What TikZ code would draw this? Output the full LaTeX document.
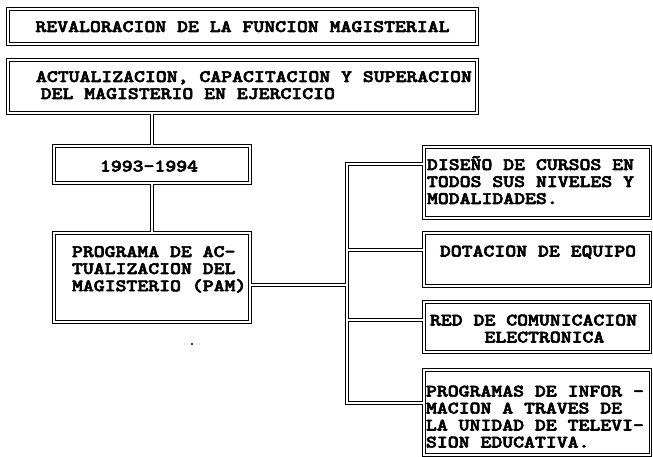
\documentclass[tikz,border=0pt]{standalone}
\usepackage{fontspec}
\newfontfamily\cour{lmmonolt10-bold.otf}[FakeBold=3]
\newcommand\tx[1]{\scalebox{1.186}[1]{#1}}
\begin{document}
\begin{tikzpicture}[x=1pt,y=-1pt,
  boxn/.style={rectangle, inner sep=0pt, outer sep=0pt, draw=none},
  txt/.style={inner sep=0pt, outer sep=0pt, font=\cour\fontsize{17.5}{17}\selectfont}]
\fill[white] (0,0) rectangle (653,457);
\useasboundingbox (0,0) rectangle (653,457);
% boxes
\node[boxn, minimum width=469pt, minimum height=35pt] (b1) at (242.5,26.5) {};
\node[boxn, minimum width=469pt, minimum height=53pt] (b2) at (242.5,86.5) {};
\node[boxn, minimum width=196pt, minimum height=37pt] (b3) at (152,164.5) {};
\node[boxn, minimum width=196pt, minimum height=89pt] (b4) at (152,277.5) {};
\node[boxn, minimum width=226.5pt, minimum height=71pt] (r1) at (537.25,182.5) {};
\node[boxn, minimum width=226.5pt, minimum height=53pt] (r2) at (537.25,259.5) {};
\node[boxn, minimum width=226.5pt, minimum height=50pt] (r3) at (537.25,327) {};
\node[boxn, minimum width=226.5pt, minimum height=85pt] (r4) at (537.25,412.5) {};
% junctions
\coordinate (j) at (347,285);
\coordinate (tr1) at (347,164);
\coordinate (tr2) at (347,250);
\coordinate (tr3) at (347,320);
\coordinate (tr4) at (347,403);
% double lines: black then white
\foreach \col/\lw in {black/3.8pt, white/1.4pt}{
  \draw[draw=\col, line width=\lw, line join=miter]
    (b1.north west) rectangle (b1.south east)
    (b2.north west) rectangle (b2.south east)
    (b3.north west) rectangle (b3.south east)
    (b4.north west) rectangle (b4.south east)
    (r1.north west) rectangle (r1.south east)
    (r2.north west) rectangle (r2.south east)
    (r3.north west) rectangle (r3.south east)
    (r4.north west) rectangle (r4.south east)
    (b2.south -| b3.north) -- (b3.north)
    (b3.south) -- (b4.north)
    (j -| b4.east) -- (j)
    (tr1 -| r1.west) -- (tr1) -- (tr4) -- (tr4 -| r4.west)
    (tr2) -- (tr2 -| r2.west)
    (tr3) -- (tr3 -| r3.west);
}
% texts
\node[txt, anchor=base] (t1) at (242.5,32) {\tx{REVALORACION DE LA FUNCION MAGISTERIAL}};
\node[txt, anchor=base west] (t2) at (36,82) {\tx{\begin{tabular}[t]{@{}l@{}}ACTUALIZACION, CAPACITACION Y SUPERACION\\\hspace*{4pt}DEL MAGISTERIO EN EJERCICIO\end{tabular}}};
\node[txt, anchor=base] (t3) at (149,171.5) {\tx{1993-1994}};
\node[txt, anchor=base west] (t4) at (72,257) {\tx{\begin{tabular}[t]{@{}l@{}}PROGRAMA DE AC-\\TUALIZACION DEL\\MAGISTERIO (PAM)\end{tabular}}};
\node[txt, anchor=base west] (t5) at (427,170) {\tx{\begin{tabular}[t]{@{}l@{}}DISEÑO DE CURSOS EN\\TODOS SUS NIVELES Y\\MODALIDADES.\end{tabular}}};
\node[txt, anchor=base] (t6) at (538,256.5) {\tx{DOTACION DE EQUIPO}};
\node[txt, anchor=base west] (t7) at (430,325.5) {\tx{\begin{tabular}[t]{@{}l@{}}RED DE COMUNICACION\\\phantom{XXXXX}ELECTRONICA\end{tabular}}};
\node[txt, anchor=base west] (t8) at (426,396.5) {\tx{\begin{tabular}[t]{@{}l@{}}PROGRAMAS DE INFOR -\\MACION A TRAVES DE\\LA UNIDAD DE TELEVI-\\SION EDUCATIVA.\end{tabular}}};
\fill (192,344) circle (1.1pt);
\end{tikzpicture}
\end{document}
